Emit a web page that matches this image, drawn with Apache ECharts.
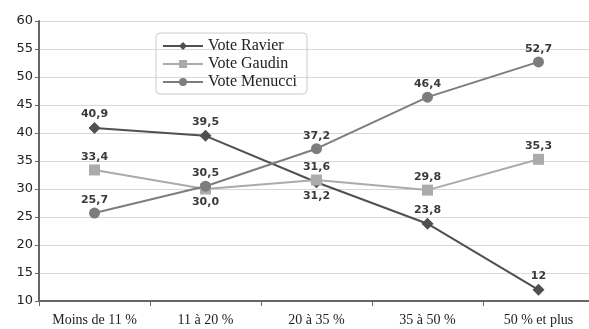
<!DOCTYPE html>
<html>
<head>
<meta charset="utf-8">
<script src="https://cdn.jsdelivr.net/npm/echarts@6/dist/echarts.min.js"></script>
<style>
html, body { margin: 0; padding: 0; background: #fff; overflow: hidden; }
#chart { width: 595px; height: 329px; }
</style>
</head>
<body>
<div id="chart"></div>
<script>
var categories = ['Moins de 11 %', '11 à 20 %', '20 à 35 %', '35 à 50 %', '50 % et plus'];
var ravier = [40.9, 39.5, 31.2, 23.8, 12];
var gaudin = [33.4, 30.0, 31.6, 29.8, 35.3];
var menucci = [25.7, 30.5, 37.2, 46.4, 52.7];
var ravierLabels = ['40,9', '39,5', '31,2', '23,8', '12'];
var gaudinLabels = ['33,4', '30,0', '31,6', '29,8', '35,3'];
var menucciLabels = ['25,7', '30,5', '37,2', '46,4', '52,7'];

var myChart = echarts.init(document.getElementById('chart'));

function makeSeries(name, data, labels, color, symbol, size, below) {
    return {
        name: name,
        type: 'line',
        data: data.map(function (v, i) {
            var d = { value: v };
            if (below.indexOf(i) >= 0) {
                d.label = { position: 'bottom' };
            }
            return d;
        }),
        symbol: symbol,
        symbolSize: size,
        lineStyle: { color: color, width: 2 },
        itemStyle: { color: color },
        label: {
            show: true,
            position: 'top',
            distance: 2,
            color: '#3a3a3a',
            fontFamily: 'DejaVu Sans',
            fontWeight: 'bold',
            fontSize: 11,
            formatter: function (p) { return labels[p.dataIndex]; }
        }
    };
}

var option = {
    animation: false,
    grid: { left: 39, top: 21, bottom: 28, right: 1 },
    legend: {
        orient: 'vertical',
        left: 156,
        top: 33,
        padding: [5, 10, 4, 6],
        itemGap: 2,
        itemWidth: 40,
        itemHeight: 10,
        borderColor: '#ccc',
        borderWidth: 1,
        borderRadius: 4,
        textStyle: { fontFamily: 'Liberation Serif', fontSize: 16, color: '#222' },
        data: ['Vote Ravier', 'Vote Gaudin', 'Vote Menucci']
    },
    xAxis: {
        type: 'category',
        data: categories,
        boundaryGap: true,
        axisLine: { lineStyle: { color: '#666', width: 2 } },
        axisTick: { show: true, length: 5, lineStyle: { color: '#666' } },
        axisLabel: { interval: 0, fontFamily: 'Liberation Serif', fontSize: 14, color: '#222', margin: 12 }
    },
    yAxis: {
        type: 'value',
        min: 10,
        max: 60,
        interval: 5,
        axisLine: { show: true, lineStyle: { color: '#666', width: 2 } },
        axisTick: { show: true, length: 4, lineStyle: { color: '#666' } },
        splitLine: { lineStyle: { color: '#d8d8d8', width: 1 } },
        axisLabel: { fontFamily: 'DejaVu Sans', fontSize: 13, color: '#222', margin: 6 }
    },
    series: [
        makeSeries('Vote Ravier', ravier, ravierLabels, '#505050', 'diamond', 12, [2]),
        makeSeries('Vote Gaudin', gaudin, gaudinLabels, '#ababab', 'rect', 11, [1]),
        makeSeries('Vote Menucci', menucci, menucciLabels, '#7d7d7d', 'circle', 11, [])
    ]
};

myChart.setOption(option);
</script>
</body>
</html>
